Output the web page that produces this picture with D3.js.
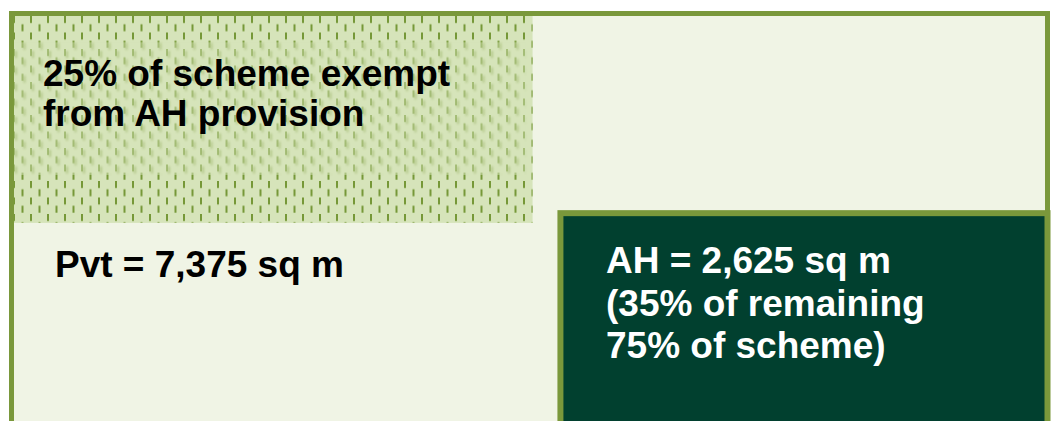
<!DOCTYPE html>
<html>
<head>
<meta charset="utf-8">
<script src="https://cdn.jsdelivr.net/npm/d3@7"></script>
<style>
    body { margin: 0; background: #ffffff; }
    svg { display: block; }
    .label { font-family: "Liberation Sans", Arial, sans-serif; font-weight: bold; }
</style>
</head>
<body>
<div id="scheme-chart"></div>
<script>

// scheme figures (sq m)
var schemeTotal = 10000;
var exemptShare = 0.25;
var ahShare = 0.35;
var blockNames = ["exempt", "pvt", "ah"];
var blockValues = [2500, 7375, 2625];

// text lines per block
var exemptLines = ["25% of scheme exempt", "from AH provision"];
var pvtLines = ["Pvt = 7,375 sq m"];
var ahLines = ["AH = 2,625 sq m", "(35% of remaining", "75% of scheme)"];

SchemeChart = function(_parentElement){
    this.parentElement = _parentElement;
    this.initVis();
}

SchemeChart.prototype.initVis = function(){
    var vis = this;

    vis.width = 1055;
    vis.height = 421;

    vis.svg = d3.select("#" + vis.parentElement).append("svg")
        .attr("width", vis.width)
        .attr("height", vis.height);

    // dash pattern
    var defs = vis.svg.append("defs");
    function addPattern(id, dx, dy, colour) {
        var p = defs.append("pattern")
            .attr("id", id)
            .attr("patternUnits", "userSpaceOnUse")
            .attr("x", dx).attr("y", dy)
            .attr("width", 17)
            .attr("height", 16.5);
        p.append("rect").attr("x", 0).attr("y", 0).attr("width", 2).attr("height", 7).attr("fill", colour);
        p.append("rect").attr("x", 8.5).attr("y", 8.25).attr("width", 2).attr("height", 7).attr("fill", colour);
    }
    addPattern("dashes", 13, 16, "#769838");
    addPattern("dashes2", 15, 18, "#86a44c");

    defs.append("filter").attr("id", "soft")
        .append("feGaussianBlur").attr("stdDeviation", 0.9);

    // panel scales: x across the panel, y down it
    vis.x = d3.scaleLinear().domain([0, 1]).range([14, 1045]);
    vis.y = d3.scaleLinear().domain([0, 1]).range([16, 440]);

    var exemptW = 0.503;   // share of panel width for exempt block
    var ahX = 0.53;
    var ahY = 0.465;

    // outer panel
    vis.svg.append("rect")
        .attr("x", vis.x(0) - 2.5)
        .attr("y", vis.y(0) - 2.5)
        .attr("width", vis.x(1) - vis.x(0) + 5)
        .attr("height", vis.y(1) - vis.y(0) + 5)
        .attr("fill", "#f0f4e5")
        .attr("stroke", "#7a983b")
        .attr("stroke-width", 5);

    // exempt block
    vis.svg.append("rect")
        .attr("x", vis.x(0)).attr("y", vis.y(0))
        .attr("width", vis.x(exemptW) - vis.x(0))
        .attr("height", vis.y(0.488) - vis.y(0))
        .attr("fill", "#d6e4ba");
    vis.svg.append("rect")
        .attr("x", vis.x(0)).attr("y", vis.y(0))
        .attr("width", vis.x(exemptW) - vis.x(0))
        .attr("height", vis.y(0.488) - vis.y(0))
        .attr("fill", "url(#dashes)");
    // the faded text box over the pattern
    vis.svg.append("rect")
        .attr("x", vis.x(0)).attr("y", vis.y(0.062))
        .attr("width", vis.x(0.496) - vis.x(0))
        .attr("height", vis.y(0.375) - vis.y(0.062))
        .attr("fill", "#d6e4ba")
        .attr("opacity", 0.5);
    vis.svg.append("rect")
        .attr("x", vis.x(0)).attr("y", vis.y(0.062))
        .attr("width", vis.x(0.496) - vis.x(0))
        .attr("height", vis.y(0.375) - vis.y(0.062))
        .attr("fill", "url(#dashes2)")
        .attr("filter", "url(#soft)")
        .attr("opacity", 0.45);

    // AH block
    vis.svg.append("rect")
        .attr("x", vis.x(ahX))
        .attr("y", vis.y(ahY))
        .attr("width", vis.x(1) - vis.x(ahX) + 2.5)
        .attr("height", vis.y(1) - vis.y(ahY))
        .attr("fill", "#01402f")
        .attr("stroke", "#7a983b")
        .attr("stroke-width", 6);

    // labels
    function lines(arr, x0, y0, step, colour) {
        vis.svg.append("g").selectAll("text")
            .data(arr)
            .enter().append("text")
            .attr("class", "label")
            .attr("x", x0)
            .attr("y", function(d, i) { return y0 + i * step; })
            .attr("font-size", 37)
            .attr("fill", colour)
            .text(function(d) { return d; });
    }
    lines(exemptLines, 43, 86, 40, "#000000");
    lines(pvtLines, 55, 277, 43, "#000000");
    lines(ahLines, 606, 273, 42.5, "#ffffff");
}

var chart = new SchemeChart("scheme-chart");

</script>
</body>
</html>
